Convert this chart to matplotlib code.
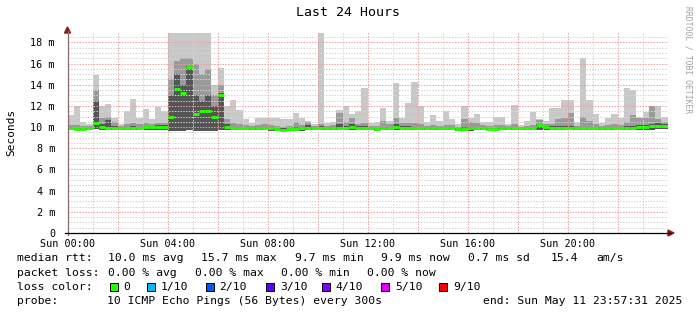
import numpy as np
import matplotlib
matplotlib.use("Agg")
import matplotlib.pyplot as plt
from matplotlib.lines import Line2D
from matplotlib.patches import Rectangle, Polygon

# ---- data (15-minute bins over the last 24 hours, values in ms) ----
bin_hours = 0.25
median_ms = [9.9, 9.85, 9.85, 9.9, 10.4, 10.0, 9.9, 9.9, 9.9, 9.9, 9.95, 9.95, 10.0, 10.0, 10.05, 10.0,
             11.0, 13.6, 13.2, 15.7, 11.2, 11.5, 11.5, 11.0, 13.0, 10.0, 9.9, 9.9, 9.9, 9.9, 9.95, 9.95,
             9.9, 9.8, 9.75, 9.8, 9.85, 9.9, 9.9, 9.95, 9.95, 9.9, 9.9, 9.95, 9.95, 10.0, 9.95, 9.95,
             9.9, 9.85, 9.9, 9.95, 10.0, 9.95, 9.95, 9.9, 9.9, 9.9, 9.9, 9.9, 9.9, 9.95, 9.85, 9.85,
             9.9, 9.9, 9.9, 9.85, 9.85, 9.9, 9.9, 9.9, 9.9, 9.9, 9.95, 10.2, 10.0, 9.95, 9.95, 9.95,
             9.9, 9.9, 9.9, 9.9, 9.9, 9.9, 9.9, 9.9, 9.95, 9.95, 9.95, 10.0, 10.0, 10.1, 10.15, 10.1]
smoke_max = [11.1, 12.0, 10.5, 10.3, 14.9, 12.0, 12.2, 10.9, 10.3, 11.5, 12.7, 10.9, 11.7, 10.8, 11.9, 11.5,
             18.9, 18.9, 18.9, 18.9, 18.9, 18.9, 18.9, 14.0, 15.6, 12.0, 12.6, 11.6, 10.8, 10.4, 10.9, 10.9,
             10.9, 10.9, 10.8, 10.8, 11.3, 10.9, 10.6, 10.3, 18.9, 10.4, 10.5, 11.6, 12.0, 11.2, 11.5, 13.7,
             10.4, 10.5, 11.8, 10.6, 14.2, 10.9, 12.3, 14.3, 12.0, 10.5, 11.1, 10.6, 11.5, 10.8, 10.3, 12.0,
             10.9, 11.2, 10.5, 10.5, 11.0, 11.0, 10.3, 12.1, 10.2, 10.6, 11.4, 10.8, 10.6, 11.8, 11.8, 12.6,
             12.6, 10.5, 16.5, 12.6, 11.2, 10.4, 10.9, 11.2, 10.9, 13.7, 13.5, 11.0, 11.4, 12.0, 12.0, 11.0]
smoke_mid = [10.2, 10.2, 10.1, 10.1, 13.5, 10.9, 11.0, 10.5, 10.1, 10.3, 10.4, 10.3, 10.4, 10.3, 10.4, 10.4,
             14.5, 16.2, 16.5, 16.5, 16.0, 15.0, 15.5, 13.0, 14.0, 10.8, 10.4, 10.3, 10.2, 10.1, 10.2, 10.3,
             10.2, 10.1, 10.0, 10.1, 10.5, 10.2, 10.5, 10.1, 10.3, 10.1, 10.2, 11.3, 10.5, 10.9, 10.3, 10.4,
             10.1, 10.1, 10.6, 10.3, 10.9, 10.4, 10.4, 10.4, 10.3, 10.1, 10.2, 10.1, 10.2, 10.2, 10.0, 10.8,
             10.5, 10.4, 10.2, 10.1, 10.2, 10.2, 10.1, 10.3, 10.0, 10.1, 10.2, 10.7, 10.3, 10.3, 10.8, 10.9,
             11.3, 10.1, 11.0, 10.6, 10.3, 10.1, 10.2, 10.3, 10.2, 10.5, 11.1, 10.9, 10.9, 12.0, 10.8, 10.5]
smoke_inner = [10.0, 9.95, 9.95, 10.0, 12.5, 10.3, 10.7, 10.1, 10.0, 10.0, 10.1, 10.0, 10.1, 10.1, 10.2, 10.2,
               13.0, 15.0, 14.0, 15.8, 13.0, 12.5, 13.0, 12.0, 13.2, 10.3, 10.0, 10.0, 10.0, 10.0, 10.0, 10.0,
               10.0, 9.95, 9.9, 9.9, 10.0, 10.0, 10.2, 10.0, 10.1, 10.0, 10.0, 10.3, 10.1, 10.3, 10.1, 10.1,
               10.0, 9.95, 10.0, 10.0, 10.3, 10.1, 10.1, 10.0, 10.0, 10.0, 10.0, 10.0, 10.0, 10.05, 9.9, 10.0,
               10.0, 10.0, 10.0, 9.95, 9.95, 10.0, 10.0, 10.0, 9.95, 10.0, 10.05, 10.3, 10.1, 10.1, 10.1, 10.1,
               10.1, 10.0, 10.0, 10.0, 10.0, 10.0, 10.0, 10.0, 10.05, 10.1, 10.1, 10.2, 10.2, 10.3, 10.4, 10.3]
smoke_min = [9.7, 9.7, 9.7, 9.7, 9.8, 9.7, 9.7, 9.7, 9.7, 9.7, 9.7, 9.7, 9.75, 9.75, 9.75, 9.75,
             9.6, 9.6, 9.6, 9.7, 9.6, 9.6, 9.6, 9.6, 9.7, 9.7, 9.7, 9.7, 9.7, 9.7, 9.7, 9.7,
             9.65, 9.6, 9.6, 9.6, 9.6, 9.65, 9.7, 9.7, 9.7, 9.7, 9.7, 9.7, 9.7, 9.7, 9.7, 9.7,
             9.7, 9.65, 9.7, 9.7, 9.7, 9.7, 9.7, 9.7, 9.7, 9.7, 9.7, 9.7, 9.7, 9.7, 9.6, 9.6,
             9.65, 9.7, 9.7, 9.7, 9.7, 9.7, 9.7, 9.7, 9.7, 9.7, 9.7, 9.75, 9.7, 9.7, 9.7, 9.7,
             9.7, 9.7, 9.7, 9.7, 9.7, 9.7, 9.7, 9.7, 9.7, 9.7, 9.7, 9.7, 9.75, 9.75, 9.8, 9.8]

x_tick_hours = [0, 4, 8, 12, 16, 20]
x_tick_labels = ["Sun 00:00", "Sun 04:00", "Sun 08:00", "Sun 12:00", "Sun 16:00", "Sun 20:00"]
y_ticks = [0, 2, 4, 6, 8, 10, 12, 14, 16, 18]
y_tick_labels = ["0", "2 m", "4 m", "6 m", "8 m", "10 m", "12 m", "14 m", "16 m", "18 m"]

loss_labels = ["0", "1/10", "2/10", "3/10", "4/10", "5/10", "9/10"]
loss_colors = ["#26ff00", "#00b8ff", "#0059ff", "#5e00ff", "#7e00ff", "#dd00ff", "#ff0000"]

# ---- figure ----
W, H = 697, 315
fig = plt.figure(figsize=(W / 100, H / 100), dpi=100)
MONO = "DejaVu Sans Mono"

def fx(px):
    return px / W

def fy(py):
    return 1 - py / H

ax_l, ax_r, ax_b, ax_t = 67.5, 667.5, 233.0, 31.8
ax = fig.add_axes([fx(ax_l), fy(ax_b), (ax_r - ax_l) / W, (ax_b - ax_t) / H])
ax.set_xlim(0, 24)
ax.set_ylim(0, 19.0)

n = len(median_ms)
left = np.arange(n) * bin_hours
lo = np.array(smoke_min)
for top, col in [(smoke_max, "#c8c8c8"), (smoke_mid, "#9a9a9a"), (smoke_inner, "#555555")]:
    top = np.array(top)
    ax.bar(left, top - lo, bottom=lo, width=bin_hours, align="edge",
           color=col, linewidth=0, zorder=1)

# median drawn as short horizontal marks per bin (no vertical connectors)
ax.hlines(median_ms, left, left + bin_hours, colors="#26ff00", linewidth=2.1, zorder=4)

# grid
dot = (0, (1.4, 1.4))
for yv in np.arange(0.5, 19.0, 0.5):
    if abs(yv % 2) > 1e-9:
        ax.axhline(yv, color="#d4d4d4", lw=0.72, ls=dot, zorder=2)
for yv in y_ticks[1:]:
    ax.axhline(yv, color="#e6a0a0", lw=0.72, ls=dot, zorder=3)
for xv in range(1, 24):
    if xv % 2:
        ax.axvline(xv, color="#d4d4d4", lw=0.72, ls=dot, zorder=2)
    else:
        ax.axvline(xv, color="#e6a0a0", lw=0.72, ls=dot, zorder=3)

for s in ["top", "right", "left", "bottom"]:
    ax.spines[s].set_visible(False)

ax.set_xticks(x_tick_hours)
ax.set_xticklabels(x_tick_labels, family=MONO, fontsize=7.3)
ax.set_yticks(y_ticks)
ax.set_yticklabels(y_tick_labels, family=MONO, fontsize=7.3)
ax.tick_params(axis="both", length=0)
ax.tick_params(axis="y", pad=9)
ax.tick_params(axis="x", pad=4)

# axis lines and arrows
fig.add_artist(Line2D([fx(ax_l), fx(ax_l)], [fy(ax_b + 2), fy(31)], color="#8a6a6a", lw=0.9))
fig.add_artist(Line2D([fx(ax_l - 3), fx(671)], [fy(ax_b), fy(ax_b)], color="black", lw=0.9))
fig.add_artist(Polygon([[fx(ax_l - 3), fy(33)], [fx(ax_l + 3), fy(33)], [fx(ax_l), fy(27)]],
                       closed=True, color="#8b1a1a", transform=fig.transFigure))
fig.add_artist(Polygon([[fx(668), fy(ax_b - 3)], [fx(668), fy(ax_b + 3)], [fx(674), fy(ax_b)]],
                       closed=True, color="#8b1a1a", transform=fig.transFigure))

# title, axis label, watermark
fig.text(fx(348), fy(13), "Last 24 Hours", family=MONO, fontsize=9.5, ha="center", va="center")
fig.text(fx(11), fy(132), "Seconds", family=MONO, fontsize=8, rotation=90, ha="center", va="center")
fig.text(fx(688), fy(60), "RRDTOOL / TOBI OETIKER", family=MONO, fontsize=5.8, rotation=270,
         ha="center", va="center", color="#a0a0a0")

# legend text
LF = 8.2
def lt(x, y, s, **kw):
    fig.text(fx(x), fy(y), s, family=MONO, fontsize=LF, ha="left", va="center", **kw)

y1, y2, y3, y4 = 258, 272.5, 287, 301.5
lt(17, y1, "median rtt:")
for x, s in [(107.5, "10.0 ms avg"), (201, "15.7 ms max"), (295, "9.7 ms min"),
             (381, "9.9 ms now"), (468, "0.7 ms sd"), (550.5, "15.4"), (596.5, "am/s")]:
    lt(x, y1, s)
lt(17, y2, "packet loss:")
for x, s in [(108, "0.00 % avg"), (195, "0.00 % max"), (280.6, "0.00 % min"), (367, "0.00 % now")]:
    lt(x, y2, s)
lt(17, y3, "loss color:")
sq_x = [109.5, 146.6, 205.5, 266, 321.7, 381, 438.8]
for sx, lab, col in zip(sq_x, loss_labels, loss_colors):
    fig.add_artist(Rectangle((fx(sx), fy(y3 + 4)), 8 / W, 8 / H, transform=fig.transFigure,
                             facecolor=col, edgecolor="black", lw=0.7))
    lt(sx + 14, y3, lab)
lt(17, y4, "probe:")
lt(107, y4, "10 ICMP Echo Pings (56 Bytes) every 300s")
fig.text(fx(682), fy(y4), "end: Sun May 11 23:57:31 2025", family=MONO, fontsize=LF,
         ha="right", va="center")

fig.savefig("out.png", dpi=100)
